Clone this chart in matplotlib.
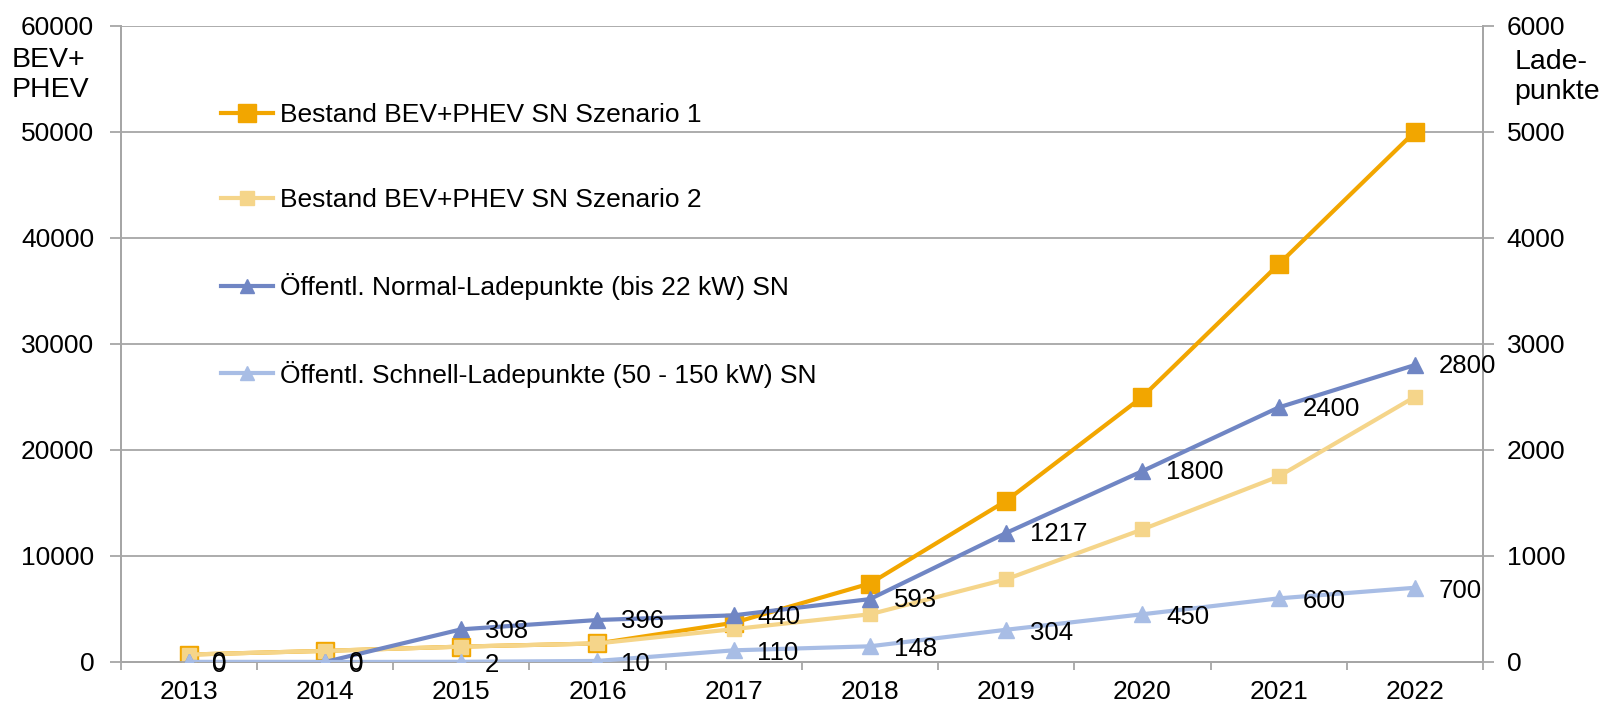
import matplotlib
matplotlib.use('Agg')
import matplotlib.pyplot as plt

plt.rcParams['font.family'] = ['Liberation Sans', 'DejaVu Sans']

# Daten
jahre = ['2013', '2014', '2015', '2016', '2017', '2018', '2019', '2020', '2021', '2022']
bestand_sz1 = [700, 1050, 1450, 1750, 3700, 7400, 15200, 25000, 37500, 50000]
bestand_sz2 = [700, 1050, 1450, 1750, 3100, 4500, 7800, 12500, 17500, 25000]
normal_lp = [0, 0, 308, 396, 440, 593, 1217, 1800, 2400, 2800]
schnell_lp = [0, 0, 2, 10, 110, 148, 304, 450, 600, 700]

lbl_sz1 = 'Bestand BEV+PHEV SN Szenario 1'
lbl_sz2 = 'Bestand BEV+PHEV SN Szenario 2'
lbl_normal = 'Öffentl. Normal-Ladepunkte (bis 22 kW) SN'
lbl_schnell = 'Öffentl. Schnell-Ladepunkte (50 - 150 kW) SN'

c_sz1 = '#F2A600'
c_sz2 = '#F5D58A'
c_normal = '#7086C4'
c_schnell = '#A8BDE5'
c_grid = '#A6A6A6'

fs = 19

fig = plt.figure(figsize=(16.04, 7.05), dpi=100)
ax = fig.add_axes([0.0752, 0.061, 0.8494, 0.9027])
ax2 = ax.twinx()

x = list(range(len(jahre)))

l1, = ax.plot(x, bestand_sz1, color=c_sz1, lw=3, marker='s', ms=13, zorder=3)
l2, = ax.plot(x, bestand_sz2, color=c_sz2, lw=3, marker='s', ms=10, zorder=4)
l3, = ax2.plot(x, normal_lp, color=c_normal, lw=3, marker='^', ms=11, zorder=3)
l4, = ax2.plot(x, schnell_lp, color=c_schnell, lw=3, marker='^', ms=11, zorder=4)

# Datenbeschriftungen (über den Linien)
for i in range(len(jahre)):
    ax2.annotate(str(normal_lp[i]), (x[i], normal_lp[i]), xytext=(17, -1),
                 textcoords='offset points', ha='left', va='center', fontsize=18.5, zorder=8)
    ax2.annotate(str(schnell_lp[i]), (x[i], schnell_lp[i]), xytext=(17, -2),
                 textcoords='offset points', ha='left', va='center', fontsize=18.5, zorder=8)

ax.set_xlim(-0.5, len(jahre) - 0.5)
ax.set_ylim(0, 60000)
ax2.set_ylim(0, 6000)
ax.set_yticks(range(0, 60001, 10000))
ax2.set_yticks(range(0, 6001, 1000))
ax.set_xticks(x)
ax.set_xticklabels(jahre)
ax.set_xticks([i - 0.5 for i in range(len(jahre) + 1)], minor=True)

ax.yaxis.grid(True, color=c_grid, lw=1.3)
ax.set_axisbelow(True)
for a in (ax, ax2):
    a.spines['top'].set_visible(False)
    for s in ('left', 'right', 'bottom'):
        a.spines[s].set_color(c_grid)
        a.spines[s].set_linewidth(1.3)
    a.tick_params(axis='y', labelsize=fs, color=c_grid, length=8, width=1.3)
ax.tick_params(axis='y', pad=11)
ax2.tick_params(axis='y', pad=9)
ax.tick_params(axis='x', which='major', length=0, labelsize=fs, pad=13)
ax.tick_params(axis='x', which='minor', length=6, color=c_grid, width=1.3)

fig.text(0.007, 0.893, 'BEV+\nPHEV', fontsize=20.5, va='center', ha='left', linespacing=1.2)
fig.text(0.944, 0.891, 'Lade-\npunkte', fontsize=20.5, va='center', ha='left', linespacing=1.2)

leg = ax.legend([l1, l2, l3, l4], [lbl_sz1, lbl_sz2, lbl_normal, lbl_schnell],
                loc='upper left', bbox_to_anchor=(0.056, 0.915), frameon=False,
                fontsize=19, labelspacing=2.3, handlelength=2.0, handletextpad=0.25,
                numpoints=1, markerscale=0.95)
leg.set_zorder(10)

fig.savefig('out.png', dpi=100)
